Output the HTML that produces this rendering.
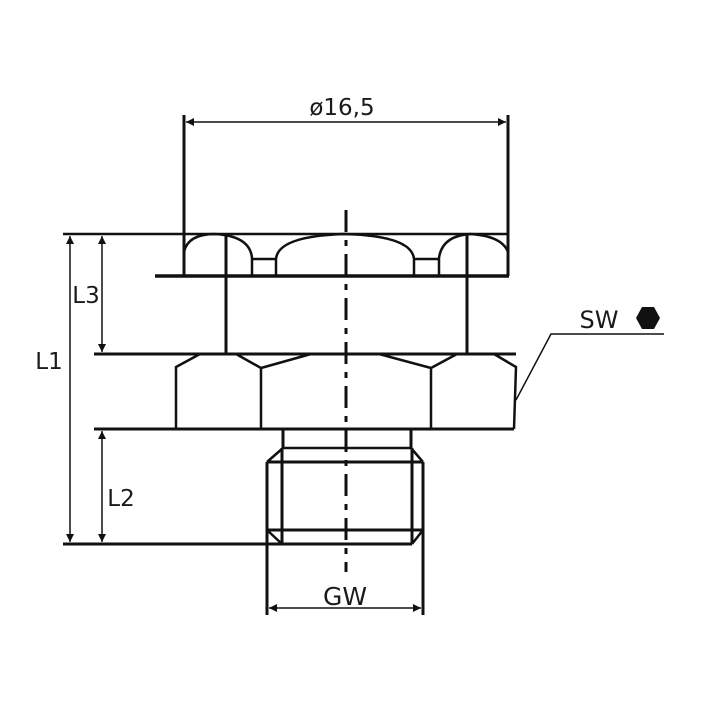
<!DOCTYPE html>
<html><head><meta charset="utf-8"><style>
html,body{margin:0;padding:0;background:#fff;}
svg{display:block;}
text{font-family:"DejaVu Sans","Liberation Sans",sans-serif;fill:#1a1a1a;}
</style></head><body>
<svg width="709" height="709" viewBox="0 0 709 709" xmlns="http://www.w3.org/2000/svg">
<defs>
<marker id="a" viewBox="0 0 10 10" refX="10" refY="5" markerWidth="12" markerHeight="8" markerUnits="userSpaceOnUse" orient="auto-start-reverse"><path d="M0,0L10,5L0,10z" fill="#111"/></marker>
</defs>
<g stroke="#111" fill="none" stroke-width="3">
<!-- cap -->
<line x1="63" y1="234" x2="508" y2="234" stroke-width="2.5"/>
<line x1="155" y1="276" x2="509" y2="276" stroke-width="3.5"/>
<line x1="184" y1="115" x2="184" y2="276"/>
<line x1="508" y1="115" x2="508" y2="276"/>
<path d="M184,252 Q188,234 215,234 Q250,236 252,258 L252,276 M252,259 L276,259 L276,276 M276,259 Q278,236 345,234 Q412,236 414,259 L414,276 M414,259 L439,259 L439,276 M439,258 Q442,236 470,234 Q502,236 508,252" stroke-width="2.5"/>
<line x1="226" y1="234" x2="226" y2="354"/>
<line x1="467" y1="234" x2="467" y2="354"/>
<!-- hex -->
<line x1="94" y1="354" x2="516" y2="354"/>
<line x1="94" y1="429" x2="514" y2="429"/>
<path d="M176,429 L176,367 L200,354 M236,354 L261,368 L261,429 M261,368 L311,354 M379,354 L431,368 L431,429 M431,368 L457,354 M494,354 L516,367 L514,429" stroke-width="2.5"/>
<!-- neck & thread -->
<line x1="283" y1="429" x2="283" y2="449"/>
<line x1="411" y1="429" x2="411" y2="449"/>
<path d="M283,448 L411,448 M283,448 L267,462 M411,448 L423,462" stroke-width="2.5"/>
<line x1="267" y1="462" x2="423" y2="462"/>
<line x1="267" y1="530" x2="423" y2="530"/>
<line x1="267" y1="462" x2="267" y2="615"/>
<line x1="423" y1="462" x2="423" y2="615"/>
<line x1="282" y1="448" x2="282" y2="544"/>
<line x1="412" y1="448" x2="412" y2="544"/>
<path d="M267,530 L282,544 M423,530 L412,544" stroke-width="2.5"/>
<line x1="63" y1="544" x2="412" y2="544"/>
<!-- centerline -->
<line x1="346" y1="210" x2="346" y2="572" stroke-dasharray="22,8,6,8"/>
</g>
<g stroke="#111" stroke-width="1.5" fill="none">
<line x1="186" y1="122" x2="506" y2="122" marker-start="url(#a)" marker-end="url(#a)"/>
<line x1="70" y1="236" x2="70" y2="542" marker-start="url(#a)" marker-end="url(#a)"/>
<line x1="102" y1="236" x2="102" y2="352" marker-start="url(#a)" marker-end="url(#a)"/>
<line x1="102" y1="431" x2="102" y2="542" marker-start="url(#a)" marker-end="url(#a)"/>
<line x1="269" y1="608" x2="421" y2="608" marker-start="url(#a)" marker-end="url(#a)"/>
<polyline points="516,400 551,334 664,334"/>
</g>
<polygon points="636,318 642,307 654,307 660,318 654,329 642,329" fill="#111"/>
<text x="342" y="115" font-size="23" text-anchor="middle">ø16,5</text>
<text x="86" y="303" font-size="23" text-anchor="middle">L3</text>
<text x="49" y="369" font-size="23" text-anchor="middle">L1</text>
<text x="121" y="506" font-size="23" text-anchor="middle">L2</text>
<text x="345" y="605" font-size="25" text-anchor="middle">GW</text>
<text x="599" y="328" font-size="24" text-anchor="middle">SW</text>
</svg>
</body></html>
